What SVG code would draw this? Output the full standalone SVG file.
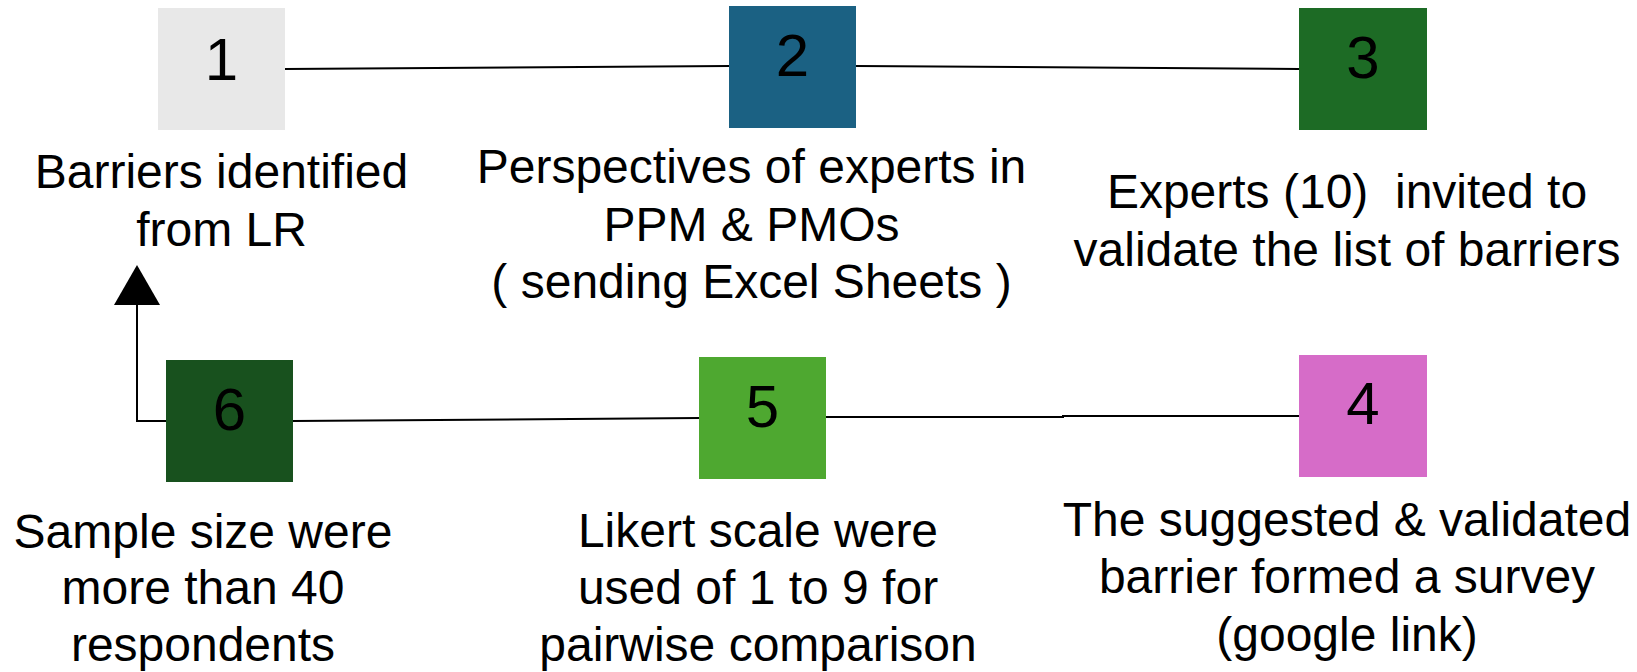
<svg xmlns="http://www.w3.org/2000/svg" width="1637" height="672" viewBox="0 0 1637 672">
  <style>
    .num { font-family: "Liberation Sans", Arial, sans-serif; font-size: 60px; fill: #000; text-anchor: middle; }
    .lbl { font-family: "Liberation Sans", Arial, sans-serif; font-size: 48px; fill: #000; text-anchor: middle; white-space: pre; }
    .wire { fill: none; stroke: #000; stroke-width: 2; }
  </style>

  <rect width="1637" height="672" fill="#fff"/>

  <!-- connectors between steps -->
  <g id="connectors">
    <path class="wire" d="M285,69 L729,66"/>
    <path class="wire" d="M856,66 L1299,69"/>
    <path class="wire" d="M826,417 L1063,417 L1063,416 L1299,416"/>
    <path class="wire" d="M293,421 L699,418"/>
    <path class="wire" d="M166,421 L137,421 L137,305"/>
    <path d="M114,305 L137,265 L160,305 Z" fill="#000"/>
  </g>

  <g id="step1">
    <rect x="158" y="8" width="127" height="122" fill="#e8e8e8"/>
    <text class="num" x="221.5" y="80">1</text>
    <text class="lbl" x="221.5" y="188">Barriers identified</text>
    <text class="lbl" x="221.5" y="246">from LR</text>
  </g>

  <g id="step2">
    <rect x="729" y="6" width="127" height="122" fill="#1b6183"/>
    <text class="num" x="792.5" y="76">2</text>
    <text class="lbl" x="751.5" y="183">Perspectives of experts in</text>
    <text class="lbl" x="751.5" y="241">PPM &amp; PMOs</text>
    <text class="lbl" x="751.5" y="298">( sending Excel Sheets )</text>
  </g>

  <g id="step3">
    <rect x="1299" y="8" width="128" height="122" fill="#1d6b25"/>
    <text class="num" x="1363" y="78">3</text>
    <text class="lbl" x="1347" y="208">Experts (10)  invited to</text>
    <text class="lbl" x="1347" y="266">validate the list of barriers</text>
  </g>

  <g id="step4">
    <rect x="1299" y="355" width="128" height="122" fill="#d66cc8"/>
    <text class="num" x="1363" y="424">4</text>
    <text class="lbl" x="1347" y="536">The suggested &amp; validated</text>
    <text class="lbl" x="1347" y="593">barrier formed a survey</text>
    <text class="lbl" x="1347" y="651">(google link)</text>
  </g>

  <g id="step5">
    <rect x="699" y="357" width="127" height="122" fill="#4ea830"/>
    <text class="num" x="762.5" y="427">5</text>
    <text class="lbl" x="758" y="547">Likert scale were</text>
    <text class="lbl" x="758" y="604">used of 1 to 9 for</text>
    <text class="lbl" x="758" y="661">pairwise comparison</text>
  </g>

  <g id="step6">
    <rect x="166" y="360" width="127" height="122" fill="#18511e"/>
    <text class="num" x="229.5" y="430">6</text>
    <text class="lbl" x="203" y="548">Sample size were</text>
    <text class="lbl" x="203" y="604">more than 40</text>
    <text class="lbl" x="203" y="661">respondents</text>
  </g>
</svg>
